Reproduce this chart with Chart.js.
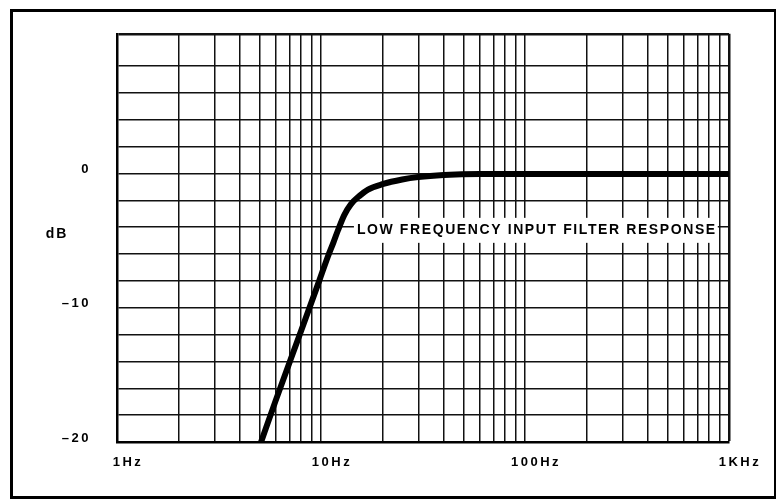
<!DOCTYPE html>
<html>
<head>
<meta charset="utf-8">
<script src="https://cdn.jsdelivr.net/npm/chart.js@4/dist/chart.umd.min.js"></script>
<style>
html, body { margin: 0; padding: 0; background: #fff; }
#wrap { position: relative; width: 776px; height: 499px; overflow: hidden; }
#frame { position: absolute; left: 10px; top: 9px; width: 761px; height: 484px; border: 3px solid #000; pointer-events: none; }
</style>
</head>
<body>
<div id="wrap">
  <canvas id="chart" width="776" height="499"></canvas>
  <div id="frame"></div>
</div>
<script>
// --- Response curve (Hz, dB) ---
const freqHz = [4.9, 6, 8, 9.8, 10.8, 11.5, 12.1, 13, 14, 15.5, 17, 20, 25, 30, 40, 60, 1000];
const gainDb = [-20.7, -16.9, -11.7, -8, -6.2, -5.15, -4.25, -3.1, -2.3, -1.65, -1.2, -0.8, -0.45, -0.27, -0.12, -0.05, -0.05];

// grid lines on the log axis, labelled only at each decade
const xGridHz = [1, 2, 3, 4, 5, 6, 7, 8, 9, 10, 20, 30, 40, 50, 60, 70, 80, 90, 100, 200, 300, 400, 500, 600, 700, 800, 900, 1000];
const xLabelHz = [1, 10, 100, 1000];
const xLabelText = ["1Hz", "10Hz", "100Hz", "1KHz"];

const yLabelDb = [0, -10, -20];
const yLabelText = ["0", "\u201310", "\u201320"];

const noteText = "LOW FREQUENCY INPUT FILTER RESPONSE";
const noteAt = [15, -4.2];   // Hz, dB where the caption starts

const FONT = '"Liberation Sans", Arial, sans-serif';

// --- captions drawn in chart space ---
const notes = {
  id: "notes",
  beforeDraw(chart) {
    chart.ctx.letterSpacing = "2.5px";
  },
  beforeDatasetsDraw(chart) {
    const { ctx, chartArea, scales: { x, y } } = chart;
    ctx.save();
    ctx.font = "bold 14px " + FONT;
    ctx.letterSpacing = "1.6px";
    ctx.textBaseline = "middle";
    const tx = x.getPixelForValue(noteAt[0]);
    const ty = y.getPixelForValue(noteAt[1]);
    const w = ctx.measureText(noteText).width;
    ctx.fillStyle = "#fff";
    ctx.fillRect(tx - 3, ty - 12, w + 4, 25);
    ctx.fillStyle = "#000";
    ctx.fillText(noteText, tx, ty);

    ctx.letterSpacing = "2px";
    ctx.textAlign = "center";
    ctx.fillText("dB", chartArea.left - 60, y.getPixelForValue(-4.5));
    ctx.restore();
  }
};

let ctx = document.getElementById("chart");
let chart = new Chart(ctx, {
  type: "line",
  data: {
    datasets: [{
      data: freqHz.map((f, i) => ({ x: f, y: gainDb[i] })),
      borderColor: "#000",
      borderWidth: 6,
      pointRadius: 0,
      cubicInterpolationMode: "monotone",
      clip: 0
    }]
  },
  options: {
    responsive: false,
    animation: false,
    layout: { padding: { left: 0, top: 33, right: 47, bottom: 0 } },
    plugins: { legend: { display: false }, tooltip: { enabled: false } },
    scales: {
      x: {
        type: "logarithmic",
        min: 1,
        max: 1000,
        afterBuildTicks: s => { s.ticks = xGridHz.map(v => ({ value: v })); },
        afterFit: s => { s.height = 57; },
        grid: {
          color: "#111",
          lineWidth: c => (c.tick && c.tick.value === 1000 ? 2.5 : 1.5),
          drawTicks: false
        },
        border: { color: "#000", width: 2.5 },
        ticks: {
          autoSkip: false,
          maxRotation: 0,
          minRotation: 0,
          labelOffset: 11,
          padding: 13,
          color: "#000",
          font: { family: FONT, size: 13, weight: "bold" },
          callback: v => {
            const i = xLabelHz.indexOf(v);
            return i >= 0 ? xLabelText[i] : "";
          }
        }
      },
      y: {
        min: -20,
        max: 10.4,
        // top frame sits a little above +10; drop the +10 line that would crowd it
        afterBuildTicks: s => { s.ticks = s.ticks.filter(t => t.value <= 8 || t.value === s.max); },
        afterFit: s => { s.width = 117; },
        grid: {
          color: "#111",
          lineWidth: c => (c.tick && c.tick.value === 10.4 ? 2.5 : 1.5),
          drawTicks: false
        },
        border: { color: "#000", width: 2.5 },
        ticks: {
          stepSize: 2,
          autoSkip: false,
          padding: 26,
          labelOffset: -4,
          color: "#000",
          font: { family: FONT, size: 13, weight: "bold" },
          callback: v => {
            const i = yLabelDb.indexOf(v);
            return i >= 0 ? yLabelText[i] : "";
          }
        }
      }
    }
  },
  plugins: [notes]
});
</script>
</body>
</html>
